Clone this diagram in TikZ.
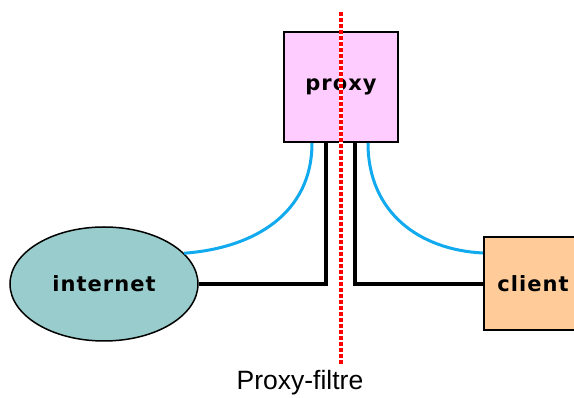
\documentclass[tikz,border=0pt]{standalone}
\usepackage{fontspec}
\setmainfont{Liberation Sans}
\newfontfamily\labfont[LetterSpace=5]{DejaVu Sans Bold}
\usetikzlibrary{shapes.geometric,calc}
\definecolor{proxypink}{HTML}{FFCCFF}
\definecolor{netteal}{HTML}{99CCCC}
\definecolor{clientorange}{HTML}{FFCC99}
\definecolor{linkblue}{HTML}{11AAEE}
\tikzset{
  box/.style={draw=black, line width=2pt, inner sep=0pt, font=\labfont\fontsize{21}{24}\selectfont},
  wire/.style={draw=black, line width=3.5pt},
  bluewire/.style={draw=linkblue, line width=3pt},
}
\begin{document}
\begin{tikzpicture}[x=1pt,y=1pt]
\useasboundingbox (0,0) rectangle (574,398);
\clip (0,0) rectangle (574,398);
\node[box, fill=proxypink, minimum width=114pt, minimum height=110pt] (proxy) at (341,311) {proxy};
\node[box, ellipse, fill=netteal, line width=1.5pt, minimum width=188pt, minimum height=114pt] (internet) at (104,114) {internet};
\node[box, fill=clientorange, minimum width=98pt, minimum height=93pt] (client) at (533,114) {client};
% black links
\draw[wire] (internet.east) -| ($(proxy.south)+(-15,0)$);
\draw[wire] (client.west) -| ($(proxy.south)+(14,0)$);
% blue links
\draw[bluewire] ($(proxy.south)+(-29,0)$) .. controls (312,185) and (255,150) .. (internet.21);
\draw[bluewire] ($(proxy.south)+(27,0)$) .. controls (368,185) and (420,148) .. ($(client.west)+(0,31)$);
% filter line
\coordinate (redtop) at (341,386);
\coordinate (redbot) at (341,33);
\draw[white, line width=3.5pt] (redtop) -- (redbot);
\draw[red, line width=3.5pt, dash pattern=on 4pt off 2pt] (redtop) -- (redbot);
\node[font=\fontsize{26.5}{29}\selectfont] (caption) at (300,15) {Proxy-filtre};
\end{tikzpicture}
\end{document}
